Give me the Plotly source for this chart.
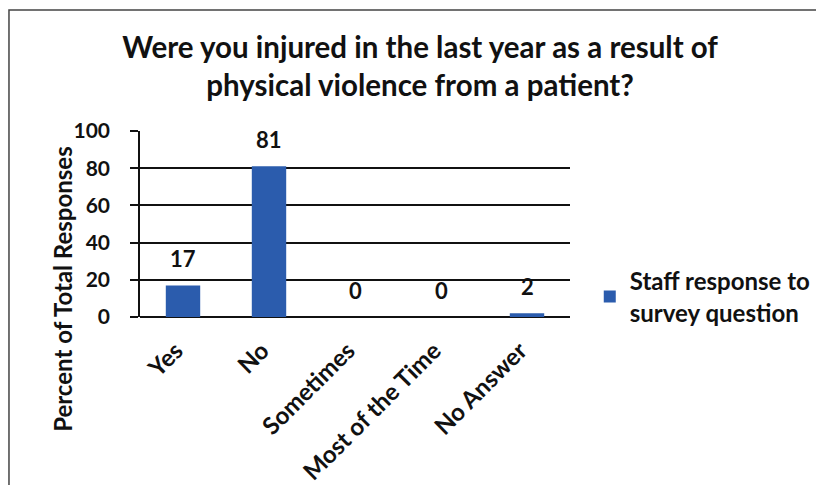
import plotly.graph_objects as go

categories = ["Yes", "No", "Sometimes", "Most of the Time", "No Answer"]
values = [17, 81, 0, 0, 2]
series_name = "Staff response to<br>survey question"
title_text = "Were you injured in the last year as a result of<br>physical violence from a patient?"
y_title = "Percent of Total Responses"
y_ticks = [0, 20, 40, 60, 80, 100]

BAR = "#2b5cad"
FONT = "Lato"
INK = "#111"

fig = go.Figure()
fig.add_trace(go.Bar(
    x=categories, y=values, name=series_name,
    marker=dict(color=BAR, line=dict(width=0)),
    showlegend=True,
))

for c, v in zip(categories, values):
    fig.add_annotation(x=c, y=v, text=str(v), showarrow=False,
                       yanchor="bottom", yshift=11,
                       font=dict(family=FONT, size=22, color=INK, weight="bold"))

fig.add_annotation(xref="paper", yref="paper", x=-0.182, y=0.15,
                   text=y_title, textangle=-90, showarrow=False,
                   xanchor="center", yanchor="middle",
                   font=dict(family=FONT, size=24, color=INK, weight="bold"))

fig.add_shape(type="rect", xref="paper", yref="paper",
              x0=-0.3047, x1=1.7, y0=-1.2, y1=1.6505,
              line=dict(color="#444", width=1.5), layer="below")

fig.update_layout(
    width=808, height=477,
    margin=dict(l=132, r=246, t=123, b=168),
    paper_bgcolor="white", plot_bgcolor="white",
    title=dict(text=title_text, x=0.51, xanchor="center",
               y=0.896, yanchor="middle",
               font=dict(family=FONT, size=29.5, color=INK, weight="bold")),
    bargap=0.6,
    font=dict(family=FONT, color=INK),
    xaxis=dict(tickangle=-45,
               tickfont=dict(family=FONT, size=24, color=INK, weight="bold"),
               showline=False, showgrid=False, ticks="", automargin=False,
               ticklabelstandoff=14, ticklabelshift=-7),
    yaxis=dict(range=[0, 100], tickvals=y_ticks, automargin=False,
               tickfont=dict(family=FONT, size=21, color=INK, weight="bold"),
               ticklabelstandoff=16,
               showgrid=True, gridcolor=INK, gridwidth=2,
               showline=True, linecolor=INK, linewidth=1.5,
               ticks="outside", ticklen=8, tickcolor=INK, tickwidth=2,
               zeroline=True, zerolinecolor=INK, zerolinewidth=2),
    legend=dict(xref="container", yref="container", x=0.72, y=0.474,
                xanchor="left", yanchor="top",
                font=dict(family=FONT, size=24, color=INK, weight="bold"),
                itemwidth=30),
)

fig.write_html("out.html")
